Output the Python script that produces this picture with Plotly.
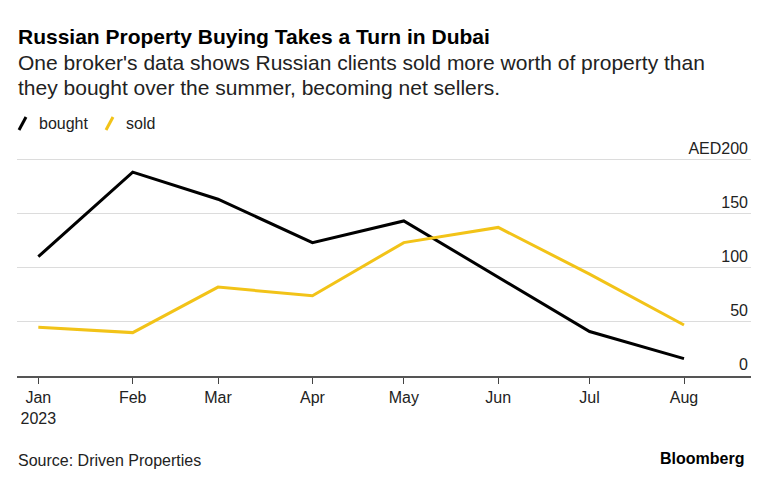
import plotly.graph_objects as go

months = ["2023-01-01", "2023-02-01", "2023-03-01", "2023-04-01",
          "2023-05-01", "2023-06-01", "2023-07-01", "2023-08-01"]
tick_text = ["Jan<br>2023", "Feb", "Mar", "Apr", "May", "Jun", "Jul", "Aug"]
bought = [110, 188, 163, 123, 143, 91, 41, 16]
sold = [45, 40, 82, 74, 123, 137, 94, 47]
y_ticks = [0, 50, 100, 150, 200]
y_tick_text = ["0", "50", "100", "150", "AED200"]

FONT = "Liberation Sans"
BLACK = "#000000"
YELLOW = "#f2c318"
TOP, BOTTOM = 132, 108
W, H = 768, 484
L, R = 17, 17

fig = go.Figure()
fig.add_trace(go.Scatter(x=months, y=bought, mode="lines", name="bought",
                         line=dict(color=BLACK, width=3), showlegend=False))
fig.add_trace(go.Scatter(x=months, y=sold, mode="lines", name="sold",
                         line=dict(color=YELLOW, width=3), showlegend=False))

fig.update_layout(
    width=W, height=H,
    margin=dict(l=L, r=R, t=TOP, b=BOTTOM, pad=0),
    paper_bgcolor="white", plot_bgcolor="white",
    font=dict(family=FONT, size=16, color="#222"),
    xaxis=dict(
        type="date",
        range=["2022-12-25", "2023-08-23"],
        tickvals=months, ticktext=tick_text,
        ticks="outside", ticklen=6, tickcolor="#444", tickwidth=1,
        showgrid=False, showline=True, linecolor="#555", linewidth=1.5,
        tickfont=dict(family=FONT, size=16, color="#222"),
        zeroline=False, fixedrange=True,
    ),
    yaxis=dict(
        side="right", range=[0, 225],
        tickvals=y_ticks, ticktext=y_tick_text,
        ticklabelposition="inside top",
        showgrid=True, gridcolor="#dcdcdc", gridwidth=1,
        zeroline=False, showline=False, ticks="",
        tickfont=dict(family=FONT, size=16, color="#222"),
        fixedrange=True,
    ),
)


def py(pix):
    top, bottom = TOP, H - BOTTOM
    return (bottom - pix) / (bottom - top)


def px(pix):
    return (pix - L) / (W - L - R)


def note(text, x, y, size, xanchor="left", color="#222"):
    fig.add_annotation(text=text, xref="paper", yref="paper", x=px(x), y=py(y),
                       xanchor=xanchor, yanchor="middle", showarrow=False,
                       align="left", font=dict(family=FONT, size=size, color=color))


note("<b>Russian Property Buying Takes a Turn in Dubai</b>", 16, 37, 21, color="#000")
note("One broker's data shows Russian clients sold more worth of property than", 16, 62.5, 21)
note("they bought over the summer, becoming net sellers.", 16, 87.5, 21)
note("bought", 37, 123, 16)
note("sold", 124, 123, 16)
note("Source: Driven Properties", 16, 460, 16)
note("<b>Bloomberg</b>", 746, 458, 16, xanchor="right", color="#000")

fig.add_shape(type="line", xref="paper", yref="paper",
              x0=px(19), y0=py(130), x1=px(26), y1=py(117),
              line=dict(color=BLACK, width=3))
fig.add_shape(type="line", xref="paper", yref="paper",
              x0=px(106), y0=py(130), x1=px(113), y1=py(117),
              line=dict(color=YELLOW, width=3))

fig.write_html("out.html",
               config={"displayModeBar": False},
               post_script="document.body.style.margin='0';document.body.style.padding='0';")
